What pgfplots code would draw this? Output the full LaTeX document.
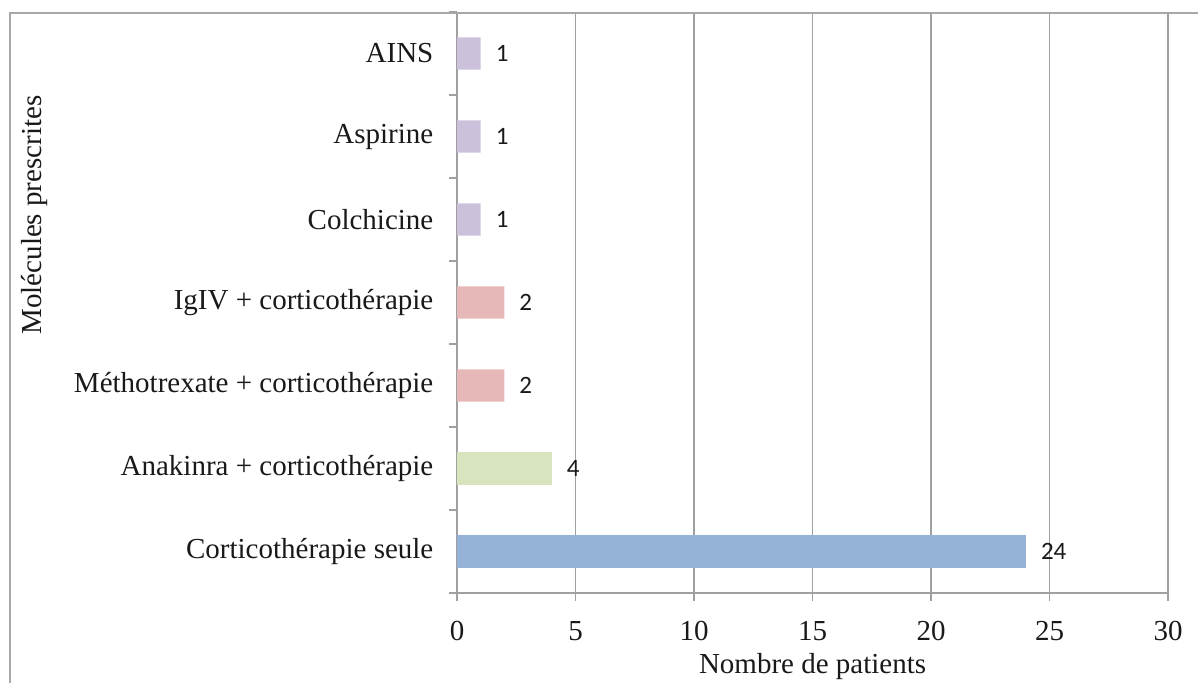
\documentclass[border=0pt]{standalone}
\usepackage{pgfplots}
\pgfplotsset{compat=1.18}
\usepackage{fontspec}
\setmainfont{Liberation Serif}
\newfontfamily\carlito{Carlito}
\definecolor{gridgray}{HTML}{A0A0A0}
\definecolor{framegray}{HTML}{A8A8A8}
\definecolor{cblue}{HTML}{95B3D7}
\definecolor{cgreen}{HTML}{D7E4BD}
\definecolor{cpink}{HTML}{E6B9B8}
\definecolor{cpurple}{HTML}{CCC1DA}
\begin{document}
\begin{tikzpicture}
\begin{axis}[
  at={(228.5pt,44.5pt)}, anchor=south west,
  scale only axis, width=355.6pt, height=290.5pt,
  xmin=0, xmax=30, ymin=-0.5, ymax=6.5,
  xtick={0,5,...,30},
  xmajorgrids, grid style={gridgray, line width=0.75pt},
  axis x line*=bottom, axis y line*=left,
  axis line style={gridgray, line width=0.75pt},
  every tick/.style={gridgray, line width=0.75pt},
  xtick align=outside, major tick length=3.8pt,
  ytick={0,...,6},
  yticklabels={Corticothérapie seule, Anakinra + corticothérapie, Méthotrexate + corticothérapie, IgIV + corticothérapie, Colchicine, Aspirine, AINS},
  ytick align=inside,
  y tick style={draw=none},
  extra y ticks={-0.5,0.5,...,6.5},
  extra y tick labels={},
  extra y tick style={ytick align=outside, y tick style={draw=gridgray}},
  tick label style={font=\fontsize{14.5}{17}\selectfont, text=black!90},
  yticklabel style={xshift=-4.5pt},
  xticklabel style={yshift=-7pt},
  /pgf/number format/assume math mode=true,
  xlabel={Nombre de patients},
  xlabel style={font=\fontsize{14.5}{17}\selectfont, text=black!90, yshift=1pt},
  xbar, bar width=0.39, bar shift=0pt,
  nodes near coords,
  nodes near coords style={font=\carlito\fontsize{12.5}{14}\selectfont, text=black!90, xshift=4pt},
]
\addplot[draw=none, fill=cblue] coordinates {(24,0)};
\addplot[draw=none, fill=cgreen] coordinates {(4,1)};
\addplot[draw=none, fill=cpink] coordinates {(2,2) (2,3)};
\addplot[draw=none, fill=cpurple] coordinates {(1,4) (1,5) (1,6)};
\end{axis}
\node[rotate=90, font=\fontsize{14.5}{17}\selectfont, text=black!90] at (17.5pt,233.5pt) {Molécules prescrites};
\draw[framegray, line width=1pt] (5pt,-20pt) -- (5pt,334.5pt) -- (620pt,334.5pt);
\pgfresetboundingbox
\useasboundingbox (0pt,0pt) rectangle (599pt,341pt);
\end{tikzpicture}
\end{document}
